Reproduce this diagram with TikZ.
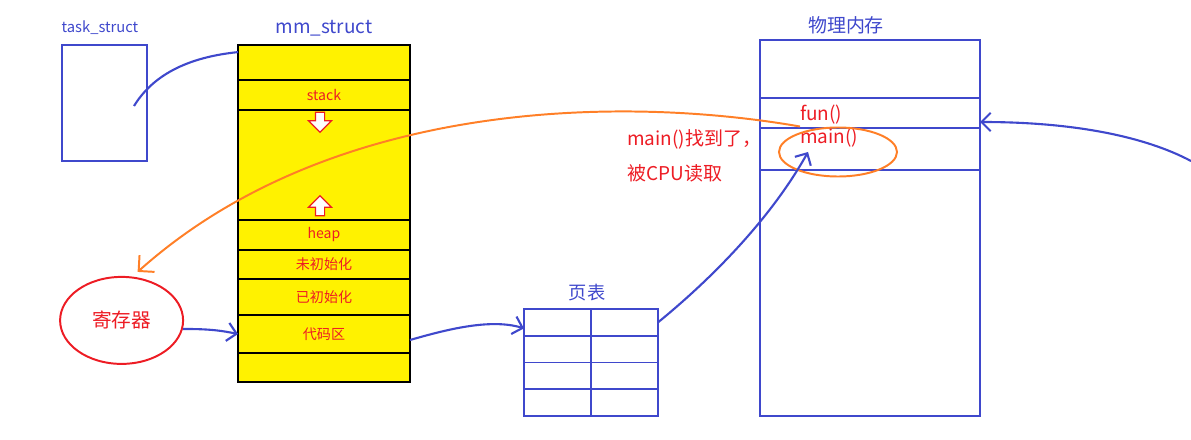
\documentclass[tikz,border=0pt]{standalone}
\usepackage{fontspec}
\setmainfont{Noto Sans CJK SC}
\usepackage{xcolor}
\usepackage{tikz}
\usetikzlibrary{arrows.meta, positioning, shapes.geometric, shapes.arrows, calc}
\definecolor{penblue}{RGB}{63,72,204}
\definecolor{penred}{RGB}{237,28,36}
\definecolor{penorange}{RGB}{255,127,39}
\definecolor{penyellow}{RGB}{255,242,0}
\tikzset{
  mmrow/.style={rectangle, draw=black, fill=penyellow, line width=1.1pt,
                outer sep=0pt, inner sep=0pt, minimum width=4.3cm,
                minimum height=#1, text=penred, font=\fontsize{10}{12}\selectfont},
  pmrow/.style={rectangle, draw=penblue, line width=1.4pt, outer sep=0pt,
                inner sep=0pt, minimum width=5.5cm, minimum height=#1},
  cell/.style={rectangle, draw=penblue, line width=1.4pt, outer sep=0pt,
               inner sep=0pt, minimum width=1.675cm, minimum height=0.66875cm},
  title/.style={text=penblue, inner sep=0pt, font=\fontsize{#1}{16}\selectfont},
  title/.default=13.5,
  memtxt/.style={text=penred, anchor=west, inner sep=0pt,
                 font=\fontsize{13.5}{25}\selectfont},
  growarr/.style={single arrow, draw=penred, fill=white, line width=0.8pt,
                  minimum height=0.5cm, inner sep=0.1cm,
                  single arrow head extend=0.175cm},
  link/.style={penblue, line width=1.5pt},
  barb/.style={-{Straight Barb[length=6.5pt,width=13pt]}},
}
\begin{document}
\begin{tikzpicture}
  \useasboundingbox (0,0) rectangle (29.775,-11);
  %% task_struct
  \node[title=10.5] (tasklbl) at (2.5,-0.7) {task\_struct};
  \node[draw=penblue, line width=1.4pt, minimum width=2.125cm,
        minimum height=2.9cm] (task) at (2.6125,-2.575) {};
  %% mm_struct
  \node[title] (mmlbl) at (8.1,-0.7) {mm\_struct};
  \node[mmrow=0.875cm] (mm0) at (8.1,-1.5625) {};
  \node[mmrow=0.75cm, below=0pt of mm0]     (mmstack) {stack};
  \node[mmrow=2.75cm, below=0pt of mmstack] (mmgap)   {};
  \node[mmrow=0.75cm, below=0pt of mmgap]   (mmheap)  {heap};
  \node[mmrow=0.725cm, below=0pt of mmheap] (mmbss)   {未初始化};
  \node[mmrow=0.9cm, below=0pt of mmbss]    (mmdata)  {已初始化};
  \node[mmrow=0.95cm, below=0pt of mmdata]  (mmtext)  {代码区};
  \node[mmrow=0.725cm, below=0pt of mmtext] (mmend)   {};
  \node[growarr, rotate=-90] (down) at (8.0,-3.0) {};
  \node[growarr, rotate=90]  (up)   at (8.0,-5.2) {};
  %% register
  \node[ellipse, draw=penred, line width=1.4pt, minimum width=3.075cm,
        minimum height=2.175cm, text=penred,
        font=\fontsize{14}{16}\selectfont] (reg) at (3.04,-8.01) {寄存器};
  %% page table
  \node[title=13] (ptlbl) at (14.675,-7.325) {页表};
  \foreach \r in {0,...,3}
    \foreach \c in {0,1}
      \node[cell] (pt-\r-\c) at ({13.9375+\c*1.675},{-8.059375-\r*0.66875}) {};
  %% physical memory
  \node[title] (pmlbl) at (21.15,-0.625) {物理内存};
  \node[pmrow=1.45cm] (pm0) at (21.75,-1.725) {};
  \node[pmrow=0.75cm, below=0pt of pm0] (pm1) {};
  \node[pmrow=1.05cm, below=0pt of pm1] (pm2) {};
  \node[pmrow=6.15cm, below=0pt of pm2] (pm3) {};
  \node[memtxt] (fun)  at (20.0,-2.875) {fun()};
  \node[memtxt] (main) at (20.0,-3.45)  {main()};
  \node[ellipse, draw=penorange, line width=1.4pt, minimum width=2.95cm,
        minimum height=1.225cm] (hit) at (20.95,-3.8) {};
  \node[memtxt, align=left] (found) at (15.675,-3.9) {main()找到了，\\被CPU读取};
  %% connectors
  \coordinate (tptr) at (3.35,-2.65);
  \coordinate (hitpt) at ($(hit.center)+(-0.75,0)$);
  \coordinate (edge) at (29.775,-4.025);
  \draw[link] (tptr) .. controls (3.75,-2.0) and (4.5,-1.45) .. ([yshift=0.26cm]mm0.west);
  \draw[link, barb] (reg.-8) .. controls (5.3,-8.22) and (5.6,-8.28) .. (mmtext.west);
  \draw[link, barb] ([yshift=-0.15cm]mmtext.east)
    .. controls (11.125,-8.25) and (12.25,-7.95) .. ([yshift=-0.15cm]pt-0-0.west);
  \draw[link, barb] (pt-0-1.east) .. controls (17.75,-7.0) and (19.25,-5.5) .. (hitpt);
  \draw[link, barb] (edge) .. controls (28.6,-3.4) and (26.8,-3.05) .. ([yshift=-0.225cm]pm1.east);
  \draw[penorange, line width=1.4pt, -{Straight Barb[length=8pt,width=16pt]}]
    ($(hit.north)+(-0.95,0)$) .. controls (15.5,-2.375) and (8.25,-2.5)
    .. ($(reg.north)+(0.4,0.1)$);
\end{tikzpicture}
\end{document}
